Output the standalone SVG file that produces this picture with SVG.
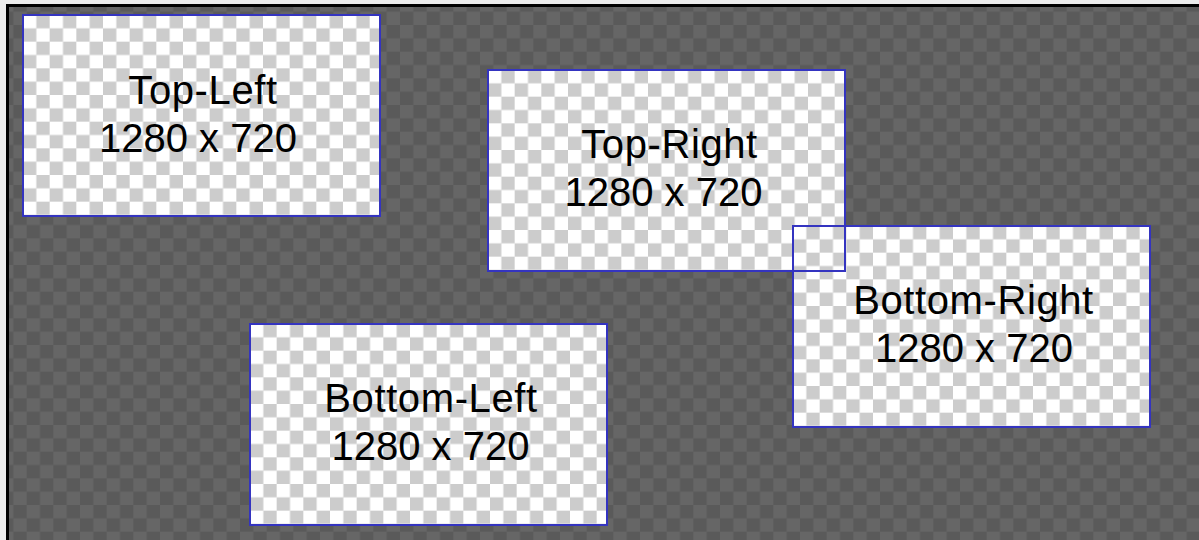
<svg xmlns="http://www.w3.org/2000/svg" xmlns:xlink="http://www.w3.org/1999/xlink" width="1199" height="540" viewBox="0 0 1199 540">
  <defs>
    <pattern id="darkChecker" patternUnits="userSpaceOnUse" x="0" y="-1.67" width="26.667" height="26.667">
      <rect width="26.667" height="26.667" fill="#5a5a5a"/>
      <rect width="13.333" height="13.333" fill="#666666"/>
      <rect x="13.333" y="13.333" width="13.333" height="13.333" fill="#666666"/>
    </pattern>
    <pattern id="lightChecker" patternUnits="userSpaceOnUse" x="0" y="0" width="26.667" height="26.667">
      <rect width="26.667" height="26.667" fill="#cccccc"/>
      <rect width="13.333" height="13.333" fill="#ffffff"/>
      <rect x="13.333" y="13.333" width="13.333" height="13.333" fill="#ffffff"/>
    </pattern>
  </defs>
  <style>
    .fill { fill: url(#lightChecker); }
    .edge { fill: none; stroke: #3434c0; stroke-width: 2; }
    .label { font-family: "Liberation Sans", Arial, sans-serif; font-size: 40px; fill: #000000; text-anchor: middle; }
    .word { letter-spacing: 0.6px; }
  </style>

  <rect x="0" y="0" width="1199" height="540" fill="#ececec"/>
  <rect x="9" y="7" width="1190" height="533" fill="url(#darkChecker)"/>
  <path d="M7.5,540 V5.5 H1199" fill="none" stroke="#000000" stroke-width="3"/>

  <g id="node-top-left" transform="translate(23,15)">
    <rect class="fill" x="0" y="0" width="357" height="201"/>
    <rect class="edge" x="0" y="0" width="357" height="201"/>
    <text class="label word" x="180" y="89">Top-Left</text>
    <text class="label" x="175" y="137">1280 x 720</text>
  </g>

  <g id="node-bottom-left" transform="translate(250,324)">
    <rect class="fill" x="0" y="0" width="357" height="201"/>
    <rect class="edge" x="0" y="0" width="357" height="201"/>
    <text class="label word" x="181" y="88">Bottom-Left</text>
    <text class="label" x="180.5" y="136">1280 x 720</text>
  </g>

  <g id="node-top-right" transform="translate(488,70)">
    <rect class="fill" x="0" y="0" width="357" height="201"/>
    <rect class="edge" x="0" y="0" width="357" height="201"/>
    <text class="label word" x="181.5" y="88">Top-Right</text>
    <text class="label" x="175.5" y="136">1280 x 720</text>
  </g>

  <g id="node-bottom-right" transform="translate(793,226)">
    <rect class="fill" x="0" y="0" width="357" height="201"/>
    <rect class="edge" x="0" y="0" width="357" height="201"/>
    <path class="edge" d="M52,0 V45 H0"/>
    <text class="label word" x="180.5" y="88">Bottom-Right</text>
    <text class="label" x="181" y="136">1280 x 720</text>
  </g>
</svg>
